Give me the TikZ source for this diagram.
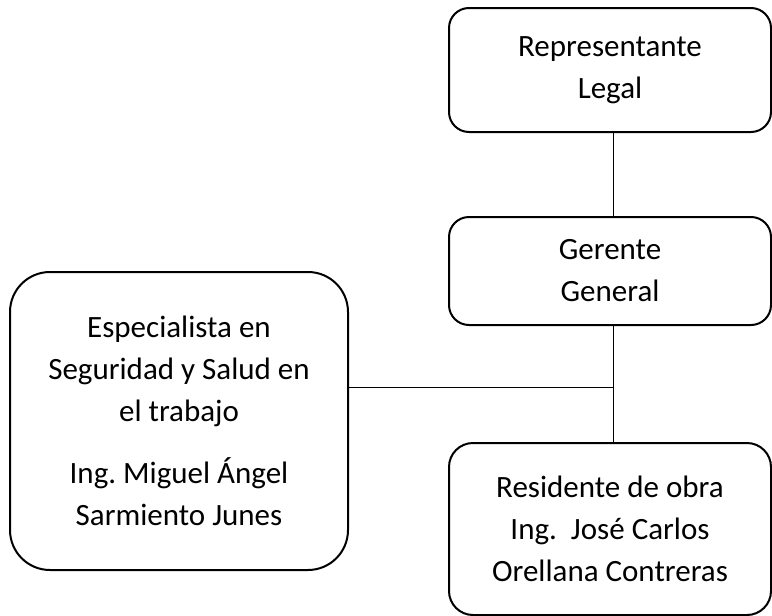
\documentclass[tikz,border=0pt]{standalone}
\usepackage{fontspec}
\setmainfont{Carlito}
\usepackage{tikz}
\usetikzlibrary{positioning,calc}

\begin{document}
\begin{tikzpicture}[
  x=0.5pt,y=-0.5pt,
  unit/.style ={draw,line width=1pt,rounded corners=10pt,align=center,
                minimum width=161pt,font=\fontsize{15.5}{21}\selectfont},
  staff/.style={unit,rounded corners=20pt,minimum width=169pt},
  link/.style ={line width=0.5pt},
]
\useasboundingbox (0,0) rectangle (772,616);

\node[unit]  (rep) at (610, 70) [minimum height=62pt] {Representante\\Legal};
\node[unit]  (ger) at (610,271) [minimum height=54pt] {Gerente\\General};
\node[unit]  (res) at (610,529) [minimum height=86pt,rounded corners=12pt]
  {Residente de obra\\Ing.\ \ José Carlos\\Orellana Contreras};
\node[staff] (esp) at (179,421) [minimum height=149pt]
  {Especialista en\\Seguridad y Salud en\\el trabajo\\[10pt]
   Ing.\ Miguel Ángel\\Sarmiento Junes};

\coordinate (jn) at (613,387);

% line of command
\draw[link] (rep.south -| jn) -- (ger.north -| jn);
\draw[link] (ger.south -| jn) -- (res.north -| jn);
% staff branch
\draw[link] (esp.east |- jn) -- (jn);
\end{tikzpicture}
\end{document}
